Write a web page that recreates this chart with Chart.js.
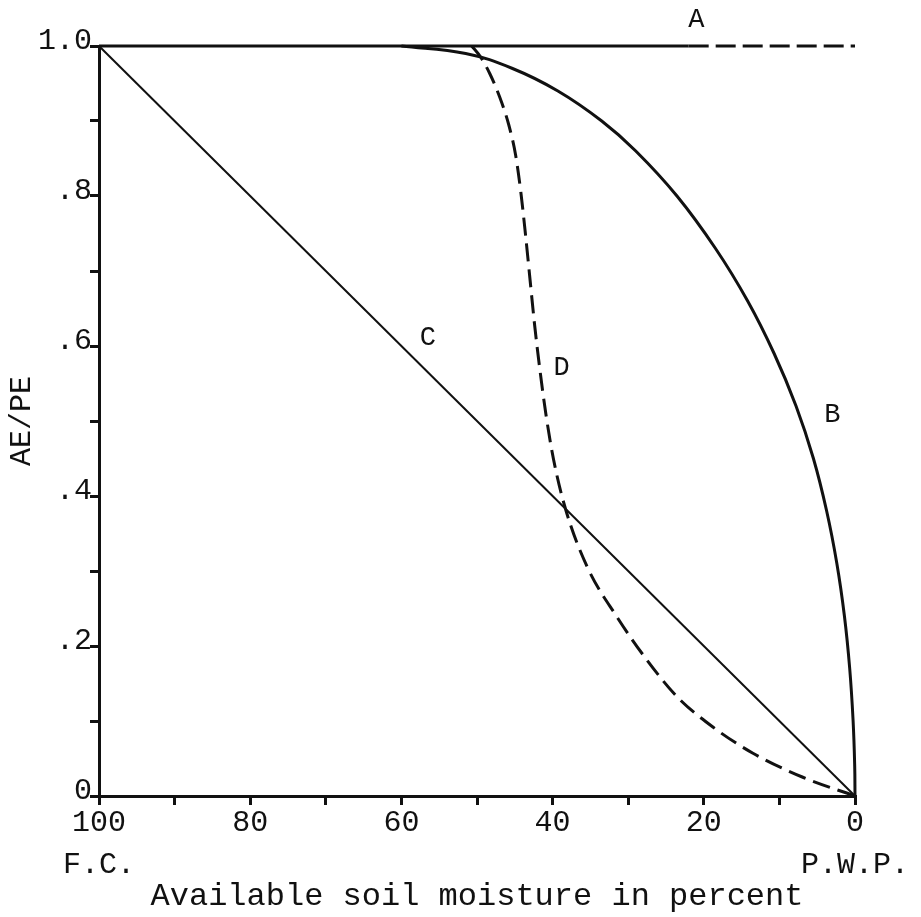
<!DOCTYPE html>
<html>
<head>
<meta charset="utf-8">
<title>AE/PE and available soil moisture</title>
<script src="https://cdn.jsdelivr.net/npm/chart.js@4.4.1/dist/chart.umd.min.js"></script>
<style>
  html, body { margin: 0; padding: 0; background: #fff; }
</style>
</head>
<body>
<canvas id="aepeChart" width="921" height="917"></canvas>
<script>
// available soil moisture (percent) on x, AE/PE ratio on y
const curveA_x = [100, 22, 0];
const curveA_y = [1.0, 1.0, 1.0];

const curveB_x = [60, 51.5, 45.3, 39.3, 33.5, 29.0, 23.55, 18.45, 14.2, 10.7, 7.8, 5.5, 3.75, 2.4, 1.4, 0.7, 0.25, 0.04, 0];
const curveB_y = [1.0, 0.99, 0.97, 0.94, 0.90, 0.86, 0.80, 0.73, 0.66, 0.59, 0.52, 0.45, 0.38, 0.31, 0.24, 0.17, 0.10, 0.04, 0];

const curveC_x = [100, 0];
const curveC_y = [1.0, 0];

const curveD_x = [50.7, 49.5, 48.3, 47.0, 45.8, 44.9, 44.2, 43.6, 43.0, 42.4, 41.7, 40.9, 39.9, 38.3, 35.4, 31.5, 27.5, 23.5, 18.8, 13.5, 6.9, 0];
const curveD_y = [1.0, 0.985, 0.963, 0.932, 0.895, 0.855, 0.805, 0.75, 0.69, 0.63, 0.57, 0.51, 0.45, 0.383, 0.305, 0.239, 0.181, 0.132, 0.092, 0.057, 0.025, 0];

// curve names and where they are written
const curveNames = ['A', 'B', 'C', 'D'];
const nameX = [21, 3.0, 56.5, 38.8];
const nameY = [1.035, 0.508, 0.611, 0.571];

const xTickLabels = {100: ['100', 'F.C.'], 80: '80', 60: '60', 40: '40', 20: '20', 0: ['0', 'P.W.P.']};
const yTickLabels = {10: '1.0', 8: '.8', 6: '.6', 4: '.4', 2: '.2', 0: '0'};

const typewriter = '"Liberation Mono", "DejaVu Sans Mono", monospace';
const ink = '#111';

function toPoints(xs, ys) {
    return xs.map((x, i) => ({x: x, y: ys[i]}));
}

const curveLabels = {
    id: 'curveLabels',
    afterDatasetsDraw(chart) {
        const {ctx, scales: {x, y}} = chart;
        ctx.save();
        ctx.font = '27px ' + typewriter;
        ctx.fillStyle = ink;
        ctx.textAlign = 'center';
        ctx.textBaseline = 'middle';
        curveNames.forEach((name, i) => {
            ctx.fillText(name, x.getPixelForValue(nameX[i]), y.getPixelForValue(nameY[i]));
        });
        ctx.restore();
    }
};

const ctx = document.getElementById('aepeChart').getContext('2d');
const chart = new Chart(ctx, {
    type: 'line',
    data: {
        datasets: [
            {
                label: 'A',
                data: toPoints(curveA_x, curveA_y),
                borderColor: ink,
                borderWidth: 3,
                segment: {
                    borderDash: c => c.p0.parsed.x <= 22 ? [20, 7] : undefined
                }
            },
            {
                label: 'B',
                data: toPoints(curveB_x, curveB_y),
                borderColor: ink,
                borderWidth: 3,
                tension: 0.4
            },
            {
                label: 'C',
                data: toPoints(curveC_x, curveC_y),
                borderColor: ink,
                borderWidth: 2
            },
            {
                label: 'D',
                data: toPoints(curveD_x, curveD_y),
                borderColor: ink,
                borderWidth: 3,
                borderDash: [18, 8],
                cubicInterpolationMode: 'monotone'
            }
        ]
    },
    options: {
        responsive: false,
        animation: false,
        parsing: false,
        layout: {
            padding: {top: 46, right: 66, left: 0, bottom: 0}
        },
        elements: {
            point: {radius: 0}
        },
        datasets: {
            line: {clip: false}
        },
        plugins: {
            legend: {display: false},
            tooltip: {enabled: false}
        },
        scales: {
            x: {
                type: 'linear',
                reverse: true,
                min: 0,
                max: 100,
                afterFit: scale => { scale.height = 121; },
                border: {display: true, color: ink, width: 3},
                grid: {
                    display: true,
                    drawOnChartArea: false,
                    drawTicks: true,
                    tickLength: 9,
                    color: ink,
                    lineWidth: 3
                },
                ticks: {
                    stepSize: 10,
                    autoSkip: false,
                    maxRotation: 0,
                    padding: -3,
                    color: ink,
                    font: {family: typewriter, size: 30, lineHeight: 1.4},
                    callback: v => xTickLabels[Math.round(v)] || ''
                },
                title: {
                    display: true,
                    text: 'Available soil moisture in percent',
                    color: ink,
                    font: {family: typewriter, size: 32},
                    padding: {top: 0, bottom: 1}
                }
            },
            y: {
                type: 'linear',
                min: 0,
                max: 1,
                afterFit: scale => { scale.width = 99; },
                border: {display: true, color: ink, width: 3},
                grid: {
                    display: true,
                    drawOnChartArea: false,
                    drawTicks: true,
                    tickLength: 9,
                    color: ink,
                    lineWidth: 3
                },
                ticks: {
                    stepSize: 0.1,
                    autoSkip: false,
                    padding: -2,
                    labelOffset: -5,
                    color: ink,
                    font: {family: typewriter, size: 30},
                    callback: v => yTickLabels[Math.round(v * 10)] || ''
                },
                title: {
                    display: true,
                    text: 'AE/PE',
                    color: ink,
                    font: {family: typewriter, size: 30},
                    padding: {top: 4, bottom: 0}
                }
            }
        }
    },
    plugins: [curveLabels]
});
</script>
</body>
</html>
